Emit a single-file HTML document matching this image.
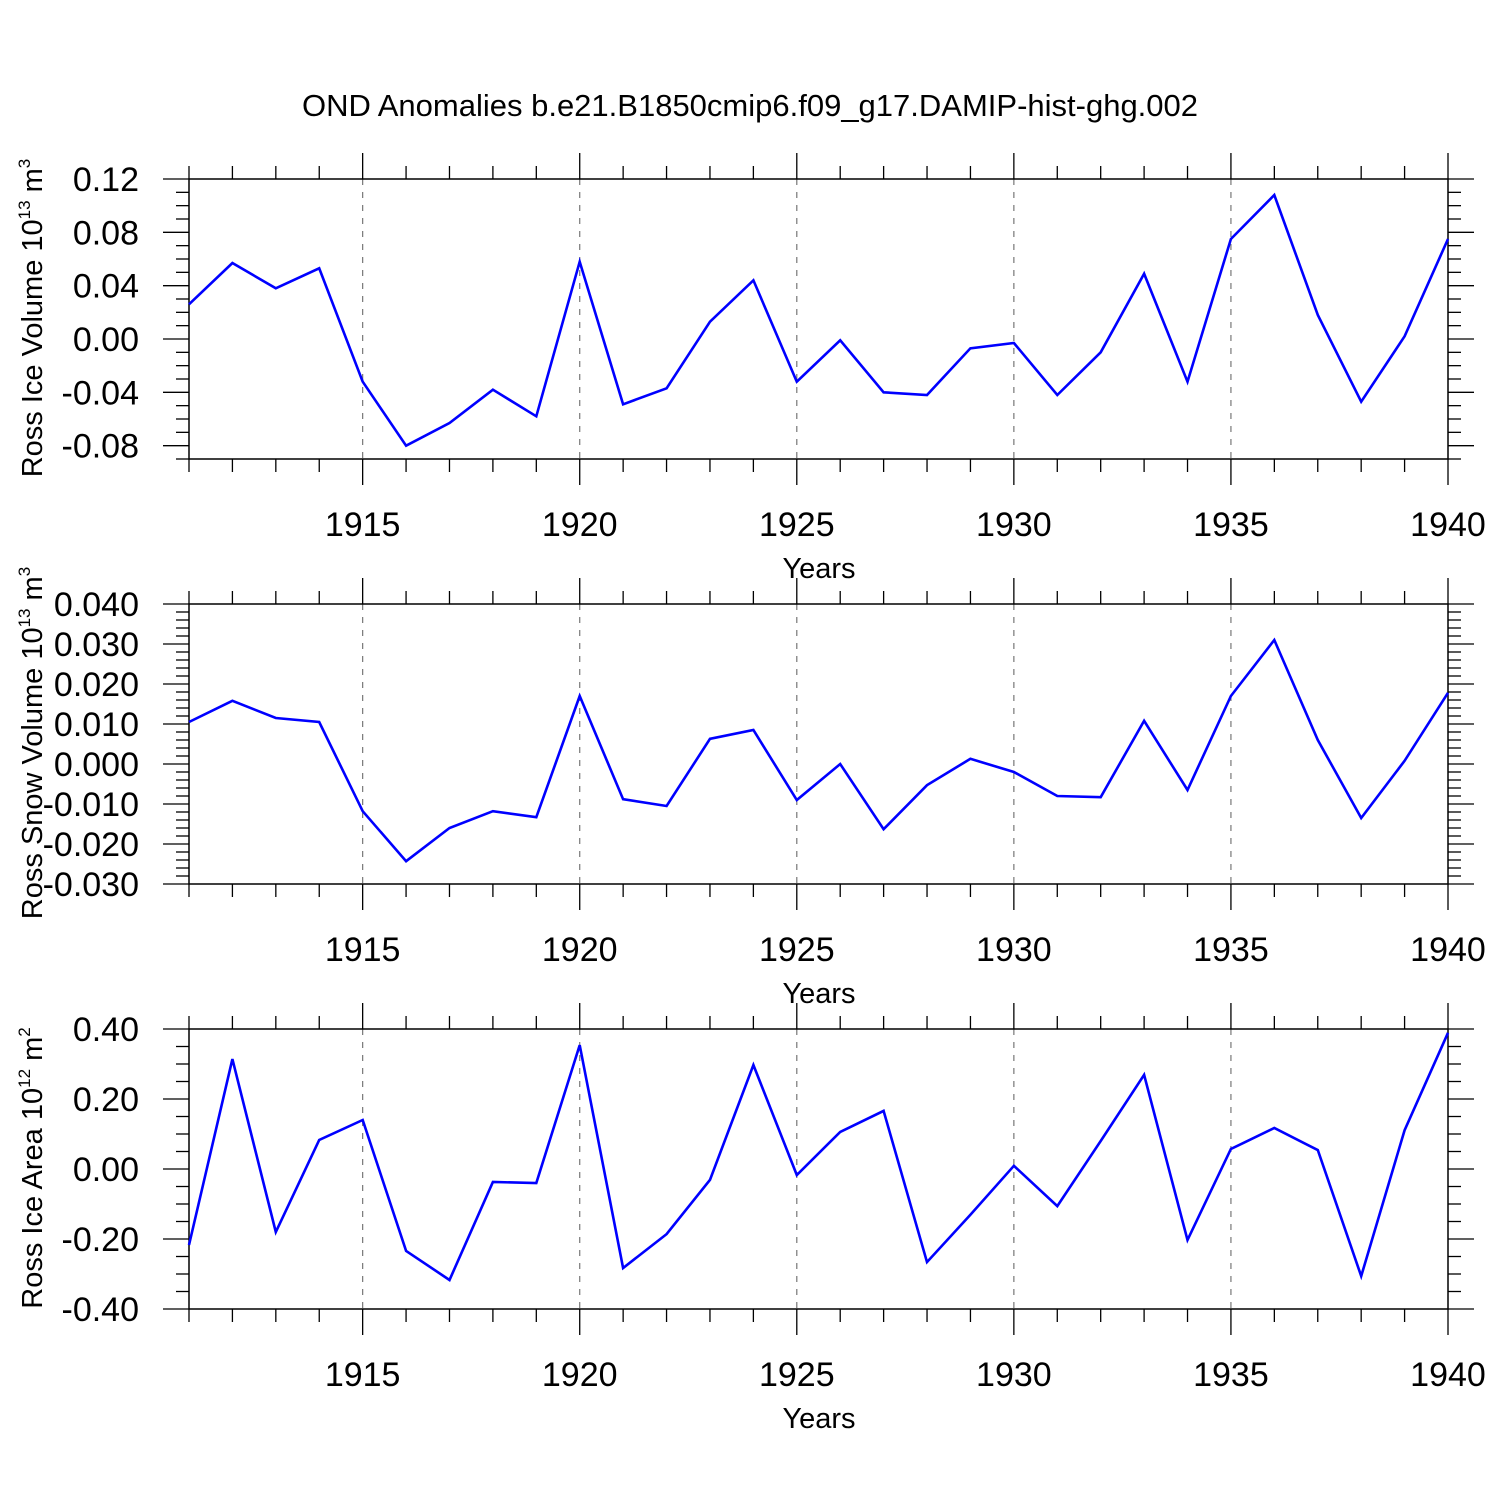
<!DOCTYPE html>
<html><head><meta charset="utf-8"><style>
html,body{margin:0;padding:0;background:#fff;}
svg{display:block;font-family:"Liberation Sans",sans-serif;}
</style></head><body>
<svg id="chart" width="1500" height="1500" viewBox="0 0 1500 1500" xmlns="http://www.w3.org/2000/svg">
<rect width="1500" height="1500" fill="#fff"/>
<text x="750" y="116" text-anchor="middle" font-size="31">OND Anomalies b.e21.B1850cmip6.f09_g17.DAMIP-hist-ghg.002</text>
</svg>
<script>
const years = [1911,1912,1913,1914,1915,1916,1917,1918,1919,1920,1921,1922,1923,1924,1925,1926,1927,1928,1929,1930,1931,1932,1933,1934,1935,1936,1937,1938,1939,1940];
const iceVolume = [0.026,0.057,0.038,0.053,-0.032,-0.080,-0.063,-0.038,-0.058,0.058,-0.049,-0.037,0.013,0.044,-0.032,-0.001,-0.040,-0.042,-0.007,-0.003,-0.042,-0.010,0.049,-0.032,0.075,0.108,0.018,-0.047,0.002,0.075];
const snowVolume = [0.0105,0.0158,0.0115,0.0105,-0.0118,-0.0243,-0.016,-0.0118,-0.0133,0.017,-0.0088,-0.0105,0.0063,0.0085,-0.009,0,-0.0163,-0.0053,0.0013,-0.002,-0.008,-0.0083,0.0108,-0.0065,0.017,0.031,0.006,-0.0135,0.0008,0.0178];
const iceArea = [-0.217,0.314,-0.18,0.083,0.14,-0.234,-0.317,-0.037,-0.04,0.354,-0.283,-0.186,-0.031,0.297,-0.017,0.106,0.166,-0.266,-0.131,0.009,-0.106,0.08,0.269,-0.203,0.057,0.117,0.054,-0.306,0.111,0.389];
const xTickYears = [1915,1920,1925,1930,1935,1940];
const iceVolumeTicks = [0.12,0.08,0.04,0.00,-0.04,-0.08];
const snowVolumeTicks = [0.040,0.030,0.020,0.010,0.000,-0.010,-0.020,-0.030];
const iceAreaTicks = [0.40,0.20,0.00,-0.20,-0.40];

const svg = document.getElementById('chart');
const NS = 'http://www.w3.org/2000/svg';
function mk(tag, attrs, parent){const e=document.createElementNS(NS,tag);for(const k in attrs)e.setAttribute(k,attrs[k]);(parent||svg).appendChild(e);return e;}
const X0=189, X1=1448, XMIN=1911, XMAX=1940;
function xs(v){return X0+(v-XMIN)/(XMAX-XMIN)*(X1-X0);}

function panel(o){
  const g=mk('g',{});
  
  
  const ys=v=>o.top+(o.ymax-v)/(o.ymax-o.ymin)*(o.bot-o.top);
  xTickYears.forEach(y=>{ if(y<XMAX){ const l=mk('line',{x1:xs(y),x2:xs(y),y1:o.top,y2:o.bot,stroke:'#777','stroke-width':1.2,'stroke-dasharray':'6,7'},g);
    
    }});
  for(let y=XMIN;y<=XMAX;y++){
    const major=xTickYears.includes(y); const len=major?26:13;
    mk('line',{x1:xs(y),x2:xs(y),y1:o.top-len,y2:o.top,stroke:'#000','stroke-width':1.3},g);
    mk('line',{x1:xs(y),x2:xs(y),y1:o.bot,y2:o.bot+len,stroke:'#000','stroke-width':1.3},g);
  }
  for(let v=o.ymin; v<=o.ymax+1e-9; v+=o.minor){
    const vv=Math.round(v/o.minor)*o.minor; const yy=ys(vv);
    const major=o.ticks.some(t=>Math.abs(t-vv)<o.minor/10); const len=major?26:13;
    mk('line',{x1:X0-len,x2:X0,y1:yy,y2:yy,stroke:'#000','stroke-width':1.3},g);
    mk('line',{x1:X1,x2:X1+len,y1:yy,y2:yy,stroke:'#000','stroke-width':1.3},g);
  }
  const box=mk('rect',{x:X0,y:o.top,width:X1-X0,height:o.bot-o.top,fill:'none',stroke:'#000','stroke-width':1.5},g);
  
  
  o.ticks.forEach(t=>{const tx=mk('text',{x:139,y:ys(t)+12,'text-anchor':'end','font-size':34},g);tx.textContent=t.toFixed(o.dec);
    
    });
  xTickYears.forEach(y=>{const tx=mk('text',{x:xs(y),y:o.bot+77,'text-anchor':'middle','font-size':34},g);tx.textContent=y;
    
    });
  const xt=mk('text',{x:819,y:o.bot+119,'text-anchor':'middle','font-size':29},g);xt.textContent='Years';
  
  
  const yt=mk('text',{transform:`translate(42,${(o.top+o.bot)/2-1}) rotate(-90)`,'text-anchor':'middle','font-size':29},g);
  yt.innerHTML=o.label+' 10<tspan dy="-12" font-size="17">'+o.exp+'</tspan><tspan dy="12"> m</tspan><tspan dy="-12" font-size="17">'+o.pow+'</tspan>';
  
  
  const pts=o.data.map((v,i)=>xs(years[i]).toFixed(1)+','+ys(v).toFixed(1)).join(' ');
  const pl=mk('polyline',{points:pts,fill:'none',stroke:'#0000ff','stroke-width':2.6,'stroke-linejoin':'miter'},g);
  
  
}
panel({name:'ice-volume-panel',top:179,bot:459,ymax:0.12,ymin:-0.09,minor:0.01,ticks:iceVolumeTicks,dec:2,data:iceVolume,label:'Ross Ice Volume',exp:'13',pow:'3'});
panel({name:'snow-volume-panel',top:604,bot:884,ymax:0.04,ymin:-0.03,minor:0.002,ticks:snowVolumeTicks,dec:3,data:snowVolume,label:'Ross Snow Volume',exp:'13',pow:'3'});
panel({name:'ice-area-panel',top:1029,bot:1309,ymax:0.4,ymin:-0.4,minor:0.05,ticks:iceAreaTicks,dec:2,data:iceArea,label:'Ross Ice Area',exp:'12',pow:'2'});
</script>
</body></html>
